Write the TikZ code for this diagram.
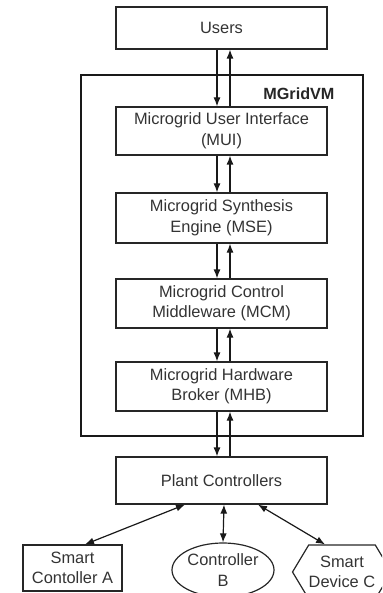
\documentclass[tikz,border=0pt]{standalone}
\usepackage{fontspec}
\setmainfont{Liberation Sans}
\usetikzlibrary{arrows.meta,shapes.geometric,shapes.symbols}
\begin{document}
\begin{tikzpicture}[x=1pt,y=-1pt,
  font=\fontsize{16.4}{20.5}\selectfont,
  every node/.style={text=black!80},
  layer/.style={draw=black!85,line width=1.2pt,minimum width=211pt,
    inner sep=0pt,align=center},
  dev/.style={draw=black!85,line width=1.2pt,inner sep=0pt,align=center},
  link/.style={draw=black!90,line width=1.2pt},
  tip/.style={-{Latex[length=9pt,width=7pt]}},
  twotip/.style={{Latex[length=9pt,width=7pt]}-{Latex[length=9pt,width=7pt]}},
]
\useasboundingbox (0,0) rectangle (382,593);
\clip (0,0) rectangle (382,593);

% container of the virtual machine layers
\node[draw=black!90,line width=1.9pt,minimum width=282pt,minimum height=361pt,
      inner sep=0pt] (vm) at (222,255.5) {};
\node[anchor=base east,font=\fontsize{16.2}{20}\selectfont\bfseries,text=black!85]
      (vmlabel) at (338,100) {MGridVM};

% stacked layers
\node[layer,minimum height=42pt] (users) at (221.5,28) {Users};
\node[layer,minimum height=48pt] (mui) at (221.5,131)
  {Microgrid User Interface\\(MUI)};
\node[layer,minimum height=50pt] (mse) at (221.5,218)
  {Microgrid Synthesis\\Engine (MSE)};
\node[layer,minimum height=49pt] (mcm) at (221.5,303.5)
  {Microgrid Control\\Middleware (MCM)};
\node[layer,minimum height=49pt] (mhb) at (221.5,386.5)
  {Microgrid Hardware\\Broker (MHB)};
\node[layer,minimum height=47pt] (plant) at (221.5,480.5) {Plant Controllers};

% field devices
\node[dev,minimum width=99pt,minimum height=46pt] (ctla) at (72.5,568)
  {Smart\\Contoller A};
\node[dev,ellipse,minimum width=102pt,minimum height=54pt] (ctlb) at (223,570)
  {Controller\\B};
\node[dev,signal,signal to=east and west,signal pointer angle=118,
      minimum width=92pt,minimum height=54pt] (devc) at (342,572)
  {Smart\\Device C};

% paired request/response links between layers
\foreach \a/\b in {users/mui,mui/mse,mse/mcm,mcm/mhb,mhb/plant}{
  \draw[link,tip] ([xshift=-4.5pt]\a.south) -- ([xshift=-4.5pt]\b.north);
  \draw[link,tip] ([xshift=8.5pt]\b.north) -- ([xshift=8.5pt]\a.south);
}

% links to the field devices
\draw[link,twotip] ([xshift=-36.5pt]plant.south) -- ([xshift=12.5pt]ctla.north);
\draw[link,twotip] ([xshift=2.5pt]plant.south) -- (ctlb.north);
\draw[link,twotip] ([xshift=36.5pt]plant.south) -- ([xshift=-17pt]devc.north);
\end{tikzpicture}
\end{document}
